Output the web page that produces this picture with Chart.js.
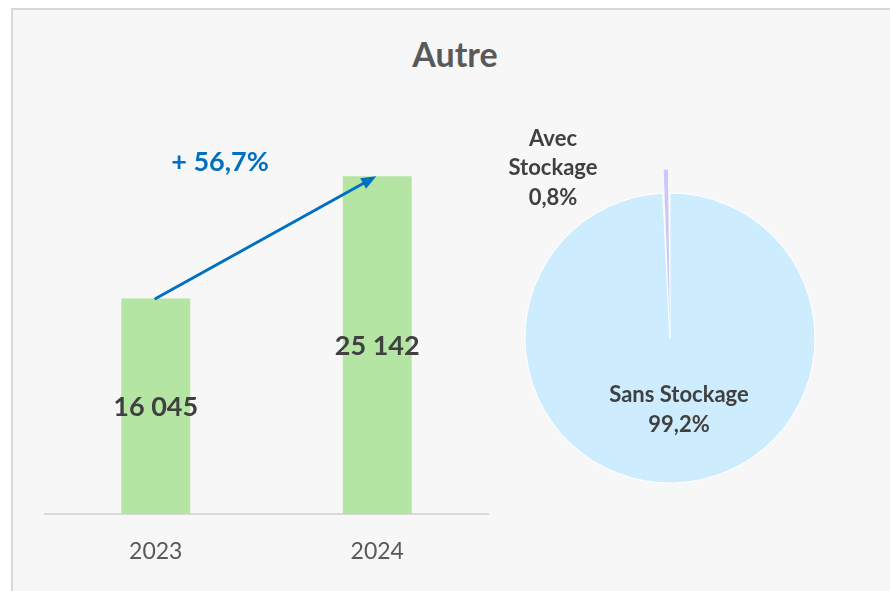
<!DOCTYPE html>
<html>
<head>
<meta charset="utf-8">
<script src="https://cdn.jsdelivr.net/npm/chart.js@4"></script>
<style>
  html, body { margin: 0; padding: 0; background: #ffffff; }
  body { width: 890px; height: 591px; position: relative; overflow: hidden; font-family: Lato, "Open Sans", sans-serif; }
  #frame { position: absolute; left: 11px; top: 8px; width: 900px; height: 600px; background: #f7f7f7; border: 2px solid #d9d9d9; box-sizing: border-box; }
  #title { position: absolute; left: 355px; width: 200px; top: 33px; text-align: center; font: bold 34px Lato, sans-serif; color: #595959; }
  canvas { position: absolute; left: 0; top: 0; }
</style>
</head>
<body>
<div id="frame"></div>
<div id="title">Autre</div>
<canvas id="bar" width="890" height="591"></canvas>
<canvas id="pie" width="890" height="591"></canvas>
<script>
// ---- data ----
const years = ['2023', '2024'];
const totals = [16045, 25142];
const pieLabels = ['Sans Stockage', 'Avec Stockage'];
const pieShares = [99.2, 0.8];

const fmtInt = v => String(v).replace(/\B(?=(\d{3})+(?!\d))/g, ' ');
const fmtPct = v => v.toFixed(1).replace('.', ',') + '%';

Chart.defaults.font.family = 'Lato, "Open Sans", sans-serif';
Chart.defaults.animation = false;

const barExtras = {
  id: 'barExtras',
  afterDatasetsDraw(chart) {
    const ctx = chart.ctx;
    const bars = chart.getDatasetMeta(0).data;
    const y0 = chart.scales.y.getPixelForValue(0);
    ctx.save();
    ctx.font = 'bold 27px Lato, sans-serif';
    ctx.fillStyle = '#404040';
    ctx.textAlign = 'center';
    ctx.textBaseline = 'middle';
    bars.forEach((b, i) => {
      ctx.fillText(fmtInt(totals[i]), b.x, (b.y + y0) / 2 + 1);
    });
    // arrow
    const a = bars[0], c = bars[1];
    const x1 = a.x, y1 = a.y, x2 = c.x - 1, y2 = c.y;
    const ang = Math.atan2(y2 - y1, x2 - x1);
    const head = 15, hw = 6;
    ctx.strokeStyle = '#0070c0';
    ctx.fillStyle = '#0070c0';
    ctx.lineWidth = 3;
    ctx.lineCap = 'round';
    ctx.beginPath();
    ctx.moveTo(x1, y1);
    ctx.lineTo(x2 - head * Math.cos(ang), y2 - head * Math.sin(ang));
    ctx.stroke();
    ctx.beginPath();
    ctx.moveTo(x2, y2);
    ctx.lineTo(x2 - head * Math.cos(ang) + hw * Math.sin(ang), y2 - head * Math.sin(ang) - hw * Math.cos(ang));
    ctx.lineTo(x2 - head * Math.cos(ang) - hw * Math.sin(ang), y2 - head * Math.sin(ang) + hw * Math.cos(ang));
    ctx.closePath();
    ctx.fill();
    // growth text
    const growth = (totals[1] / totals[0] - 1) * 100;
    ctx.font = 'bold 27px Lato, sans-serif';
    ctx.fillText('+ ' + fmtPct(growth), (x1 + x2) / 2 - 46, (y1 + y2) / 2 - 75);
    ctx.restore();
  }
};

new Chart(document.getElementById('bar'), {
  type: 'bar',
  data: {
    labels: years,
    datasets: [{
      data: totals,
      backgroundColor: '#b4e5a2',
      borderWidth: 0,
      categoryPercentage: 1,
      barPercentage: 0.311
    }]
  },
  options: {
    responsive: false,
    layout: { padding: { left: 45, right: 402, top: 111, bottom: 0 } },
    plugins: { legend: { display: false }, tooltip: { enabled: false }, title: { display: false } },
    scales: {
      y: { display: false, min: 0, max: 30000 },
      x: {
        grid: { display: false, drawTicks: false },
        border: { display: true, color: '#d9d9d9', width: 2 },
        ticks: { color: '#595959', font: { size: 23 }, padding: 24 },
        afterFit(s) { s.height = 77; }
      }
    }
  },
  plugins: [barExtras]
});

const pieExtras = {
  id: 'pieExtras',
  afterDatasetsDraw(chart) {
    const ctx = chart.ctx;
    const arc = chart.getDatasetMeta(0).data[0];
    const cx = arc.x, cy = arc.y;
    ctx.save();
    ctx.font = 'bold 22px Lato, sans-serif';
    ctx.fillStyle = '#404040';
    ctx.textAlign = 'center';
    ctx.textBaseline = 'middle';
    ctx.fillText(pieLabels[0], cx + 9, cy + 57);
    ctx.fillText(fmtPct(pieShares[0]), cx + 9, cy + 87);
    const words = pieLabels[1].split(' ');
    ctx.fillText(words[0], cx - 117, cy - 199);
    ctx.fillText(words[1], cx - 117, cy - 170);
    ctx.fillText(fmtPct(pieShares[1]), cx - 117, cy - 140);
    ctx.restore();
  }
};

new Chart(document.getElementById('pie'), {
  type: 'pie',
  data: {
    labels: pieLabels,
    datasets: [{
      data: pieShares,
      backgroundColor: ['#cdecfe', '#c8c8fc'],
      borderColor: '#ffffff',
      borderWidth: [1, 0],
      offset: [0, 48]
    }]
  },
  options: {
    responsive: false,
    radius: 145,
    layout: { padding: { left: 470, right: 20, top: 118, bottom: 33 } },
    plugins: { legend: { display: false }, tooltip: { enabled: false } }
  },
  plugins: [pieExtras]
});
</script>
</body>
</html>
